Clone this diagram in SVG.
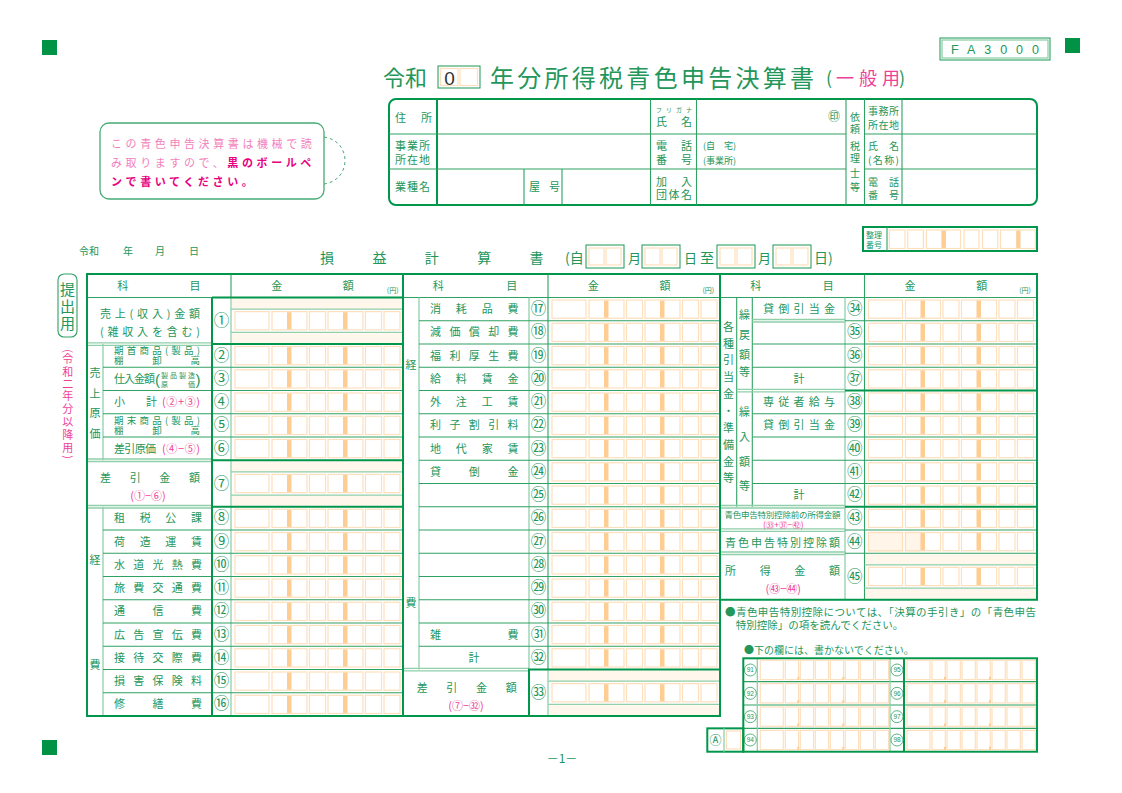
<svg xmlns="http://www.w3.org/2000/svg" width="1122" height="793" viewBox="0 0 1122 793">
<style>
text{font-family:"Noto Sans CJK JP","Noto Sans",sans-serif;fill:#23965a;font-size:11px}
.pk{fill:#ee3f98}
.t{stroke:#00964b;stroke-width:2;fill:none}
.m{stroke:#2fa163;stroke-width:1.1;fill:none}
.l{stroke:#8fcfaa;stroke-width:1.3;fill:none}
.c{fill:#fff;stroke:#fddfbd;stroke-width:1.2}
.b{fill:#fdcd93}
.bg{fill:#fff7ec}
.n{font-size:15.5px;text-anchor:middle}
.mid{text-anchor:middle}
.sq{fill:#009245}
.nb{fill:none;stroke:#2fa163;stroke-width:0.8}
.nt{font-size:6.5px;text-anchor:middle;font-family:"Liberation Sans",sans-serif}
.v{font-size:11px;text-anchor:middle;fill:#ee3f98}
</style>
<defs>
<g id="amt">
<rect class="c" x="4" y="2.5" width="34" height="18.25"/>
<rect class="c" x="41" y="2.5" width="35" height="18.25"/>
<rect class="b" x="56" y="3.1" width="4.5" height="17.1"/>
<rect class="c" x="78.5" y="2.5" width="16" height="18.25"/>
<rect class="c" x="97" y="2.5" width="35" height="18.25"/>
<rect class="b" x="112" y="3.1" width="4.5" height="17.1"/>
<rect class="c" x="134.5" y="2.5" width="16" height="18.25"/>
<rect class="c" x="153" y="2.5" width="16" height="18.25"/>
</g>
<g id="bc">
<rect class="c" x="3" y="2" width="23" height="19.3"/>
<rect class="c" x="28" y="2" width="13.3" height="19.3"/>
<rect class="c" x="43" y="2" width="13.3" height="19.3"/>
<rect class="c" x="58" y="2" width="13.3" height="19.3"/>
<rect class="c" x="73" y="2" width="13.3" height="19.3"/>
<rect class="c" x="88" y="2" width="13.3" height="19.3"/>
<rect class="c" x="103" y="2" width="13.3" height="19.3"/>
<rect class="c" x="118" y="2" width="13.3" height="19.3"/>
<rect class="b" x="40" y="18.5" width="2" height="3"/>
<rect class="b" x="85" y="18.5" width="2" height="3"/>
</g>
<g id="db">
<rect class="m" x="0" y="0" width="38" height="23"/>
<rect class="c" x="3" y="3" width="15" height="17"/>
<rect class="c" x="20" y="3" width="15" height="17"/>
</g>
</defs>
<rect width="1122" height="793" fill="#fff"/>

<g id="markers">
<rect class="sq" x="42" y="40" width="15" height="15"/>
<rect class="sq" x="1065" y="38" width="15" height="15"/>
<rect class="sq" x="42" y="740" width="15" height="15"/>
</g>

<g id="form-code">
<rect class="m" x="940" y="38" width="110" height="22"/>
<rect class="l" x="942" y="40" width="106" height="18" stroke-width="0.8"/>
<text x="951" y="54" textLength="88" lengthAdjust="spacing" style="font-family:'Liberation Sans',sans-serif;font-size:12.5px">FA3000</text>
</g>

<g id="title">
<text x="383" y="86" style="font-size:22px">令和</text>
<rect class="m" x="438" y="66" width="42" height="22"/>
<rect class="c" x="440.5" y="68.5" width="17.5" height="17"/>
<rect class="c" x="460" y="68.5" width="17.5" height="17"/>
<text x="449.5" y="85" class="mid" style="font-family:'Liberation Sans',sans-serif;font-size:19px;fill:#333">0</text>
<text x="490" y="87" textLength="324" lengthAdjust="spacing" style="font-size:24px">年分所得税青色申告決算書</text>
<text x="826" y="85" style="font-size:18px">(</text>
<text x="836" y="85" class="pk" style="font-size:18px">一</text>
<text x="859" y="85" class="pk" style="font-size:18px">般</text>
<text x="882" y="85" class="pk" style="font-size:18px">用</text>
<text x="899" y="85" style="font-size:18px">)</text>
</g>

<g id="info-box">
<rect class="t" x="389" y="99" width="648" height="106" rx="7"/>
<line class="t" x1="437" y1="99" x2="437" y2="205"/>
<line class="m" x1="650.5" y1="99" x2="650.5" y2="205"/>
<line class="m" x1="696.5" y1="99" x2="696.5" y2="205"/>
<line class="m" x1="846" y1="99" x2="846" y2="205"/>
<line class="m" x1="864.5" y1="99" x2="864.5" y2="205"/>
<line class="m" x1="902" y1="99" x2="902" y2="205"/>
<line class="m" x1="389" y1="134" x2="846" y2="134"/>
<line class="m" x1="389" y1="169" x2="846" y2="169"/>
<line class="m" x1="864.5" y1="134" x2="1037" y2="134"/>
<line class="m" x1="864.5" y1="169" x2="1037" y2="169"/>
<line class="m" x1="524" y1="169" x2="524" y2="205"/>
<line class="m" x1="562" y1="169" x2="562" y2="205"/>
<text x="395" y="121.5">住</text><text x="421" y="121.5">所</text>
<text x="395" y="150" textLength="35" lengthAdjust="spacing">事業所</text>
<text x="395" y="163.5" textLength="35" lengthAdjust="spacing">所在地</text>
<text x="395" y="191" textLength="35" lengthAdjust="spacing">業種名</text>
<text x="529" y="191">屋</text><text x="549" y="191">号</text>
<text x="656" y="112" textLength="36" lengthAdjust="spacing" style="font-size:6px">フリガナ</text>
<text x="656" y="126">氏</text><text x="681" y="126">名</text>
<text x="828" y="121" style="font-size:12px">㊞</text>
<text x="656" y="150">電</text><text x="681" y="150">話</text>
<text x="656" y="163.5">番</text><text x="681" y="163.5">号</text>
<text x="703" y="148.5" style="font-size:9px">(自　宅)</text>
<text x="703" y="163.5" style="font-size:9px">(事業所)</text>
<text x="656" y="186">加</text><text x="681" y="186">入</text>
<text x="656" y="199" textLength="36" lengthAdjust="spacing">団体名</text>
<text x="855" y="121" class="mid" style="font-size:10px">依</text>
<text x="855" y="133" class="mid" style="font-size:10px">頼</text>
<text x="855" y="149.5" class="mid" style="font-size:10px">税</text>
<text x="855" y="161.5" class="mid" style="font-size:10px">理</text>
<text x="855" y="177" class="mid" style="font-size:10px">士</text>
<text x="855" y="190.5" class="mid" style="font-size:10px">等</text>
<text x="868" y="115" textLength="31" lengthAdjust="spacing" style="font-size:10px">事務所</text>
<text x="868" y="129" textLength="31" lengthAdjust="spacing" style="font-size:10px">所在地</text>
<text x="868" y="150" style="font-size:10px">氏</text><text x="889" y="150" style="font-size:10px">名</text>
<text x="868" y="163.5" textLength="31" lengthAdjust="spacing" style="font-size:10px">(名称)</text>
<text x="868" y="186" style="font-size:10px">電</text><text x="889" y="186" style="font-size:10px">話</text>
<text x="868" y="199" style="font-size:10px">番</text><text x="889" y="199" style="font-size:10px">号</text>
</g>

<g id="note">
<rect x="100" y="123" width="224" height="76" rx="9" fill="#fff" stroke="#46ab75" stroke-width="1.3"/>
<path d="M324,137 C352,141 352,180 324,184" fill="none" stroke="#46ab75" stroke-width="1" stroke-dasharray="3,3"/>
<text x="111" y="147.5" style="font-size:11px;letter-spacing:3.6px;fill:#f27fbd">この青色申告決算書は機械で読</text>
<text x="111" y="166.5" style="font-size:11px;letter-spacing:3.6px;fill:#f27fbd">み取りますので、<tspan style="fill:#e8007f;font-weight:bold">黒のボールペ</tspan></text>
<text x="111" y="185.5" style="font-size:11px;letter-spacing:3.6px;fill:#e8007f;font-weight:bold">ンで書いてください。</text>
</g>

<g id="pl-title">
<text x="79" y="255" style="font-size:10px">令和</text>
<text x="123" y="255" style="font-size:10px">年</text>
<text x="155" y="255" style="font-size:10px">月</text>
<text x="189" y="255" style="font-size:10px">日</text>
<text x="320" y="263" style="font-size:14px">損</text>
<text x="372.4" y="263" style="font-size:14px">益</text>
<text x="424.8" y="263" style="font-size:14px">計</text>
<text x="477.2" y="263" style="font-size:14px">算</text>
<text x="529.6" y="263" style="font-size:14px">書</text>
<text x="565" y="263" style="font-size:14px">(自</text>
<use href="#db" x="586" y="245"/>
<text x="628" y="263" style="font-size:13px">月</text>
<use href="#db" x="642" y="245"/>
<text x="684" y="263" style="font-size:13px">日</text>
<text x="700" y="263" style="font-size:14px">至</text>
<use href="#db" x="717" y="245"/>
<text x="758" y="263" style="font-size:13px">月</text>
<use href="#db" x="773" y="245"/>
<text x="814" y="263" style="font-size:14px">日)</text>
</g>

<g id="seiri-bango">
<rect class="t" x="863" y="227" width="174" height="24"/>
<line class="m" x1="887" y1="227" x2="887" y2="251"/>
<text x="866" y="237.5" style="font-size:8px">整理</text>
<text x="866" y="248" style="font-size:8px">番号</text>
<rect class="c" x="889.3" y="230" width="15.7" height="18.5"/>
<rect class="c" x="907.7" y="230" width="15.7" height="18.5"/>
<rect class="c" x="926.5" y="230" width="34" height="18.5"/>
<rect class="b" x="941.4" y="230.6" width="4.5" height="17.3"/>
<rect class="c" x="964" y="230" width="15" height="18.5"/>
<rect class="c" x="982.5" y="230" width="15.3" height="18.5"/>
<rect class="c" x="1000.5" y="230" width="34.8" height="18.5"/>
<rect class="b" x="1016.2" y="230.6" width="4.3" height="17.3"/>
</g>

<g id="side-label">
<rect class="m" x="58" y="274" width="19" height="63" rx="6"/>
<text x="67.5" y="295" class="mid" style="font-size:15px">提</text>
<text x="67.5" y="312" class="mid" style="font-size:15px">出</text>
<text x="67.5" y="329" class="mid" style="font-size:15px">用</text>
<text transform="translate(67.7,351) rotate(90)" y="3.2" class="v">(</text>
<text x="67.7" y="362.5" class="v">令</text>
<text x="67.7" y="375.5" class="v">和</text>
<text x="67.7" y="387.5" class="v">二</text>
<text x="67.7" y="400" class="v">年</text>
<text x="67.7" y="412.5" class="v">分</text>
<text x="67.7" y="425.5" class="v">以</text>
<text x="67.7" y="438.5" class="v">降</text>
<text x="67.7" y="451.5" class="v">用</text>
<text transform="translate(67.7,457) rotate(90)" y="3.2" class="v">)</text>
</g>

<g id="table-left">
<rect class="bg" x="232" y="298.5" width="170" height="10.6"/>
<rect class="bg" x="232" y="333.4" width="170" height="9.6"/>
<rect class="bg" x="232" y="461.2" width="170" height="10.6"/>
<rect class="bg" x="232" y="496.1" width="170" height="9.6"/>
<line class="m" x1="87" y1="297.5" x2="403" y2="297.5"/>
<line class="m" x1="231" y1="274" x2="231" y2="297.5"/>
<line class="l" x1="231" y1="297.5" x2="231" y2="716"/>
<line class="l" x1="103" y1="344" x2="103" y2="460.25"/>
<line class="l" x1="103" y1="506.75" x2="103" y2="716"/>
<line class="m" x1="103" y1="367.25" x2="403" y2="367.25"/>
<line class="m" x1="103" y1="390.5" x2="403" y2="390.5"/>
<line class="m" x1="103" y1="413.75" x2="403" y2="413.75"/>
<line class="m" x1="103" y1="437" x2="403" y2="437"/>
<line class="m" x1="103" y1="530" x2="403" y2="530"/>
<line class="m" x1="103" y1="553.25" x2="403" y2="553.25"/>
<line class="m" x1="103" y1="576.5" x2="403" y2="576.5"/>
<line class="m" x1="103" y1="599.75" x2="403" y2="599.75"/>
<line class="m" x1="103" y1="623" x2="403" y2="623"/>
<line class="m" x1="103" y1="646.25" x2="403" y2="646.25"/>
<line class="m" x1="103" y1="669.5" x2="403" y2="669.5"/>
<line class="m" x1="103" y1="692.75" x2="403" y2="692.75"/>
<line class="l" x1="87" y1="342.8" x2="212" y2="342.8"/>
<line class="l" x1="87" y1="345.3" x2="212" y2="345.3"/>
<line class="l" x1="87" y1="459" x2="212" y2="459"/>
<line class="l" x1="87" y1="461.5" x2="212" y2="461.5"/>
<line class="l" x1="87" y1="505.5" x2="212" y2="505.5"/>
<line class="l" x1="87" y1="508" x2="212" y2="508"/>
<line class="l" x1="231" y1="309.125" x2="403" y2="309.125"/>
<line class="l" x1="231" y1="332.375" x2="403" y2="332.375"/>
<line class="l" x1="231" y1="471.875" x2="403" y2="471.875"/>
<line class="l" x1="231" y1="495.125" x2="403" y2="495.125"/>
<line class="t" x1="212" y1="297.5" x2="212" y2="716"/>
<line class="t" x1="212" y1="297.5" x2="403" y2="297.5"/>
<line class="t" x1="212" y1="344" x2="403" y2="344"/>
<line class="t" x1="212" y1="460.25" x2="403" y2="460.25"/>
<line class="t" x1="212" y1="506.75" x2="403" y2="506.75"/>
<rect class="t" x="87" y="274" width="316" height="442"/>
<use href="#amt" x="231" y="309.125"/>
<use href="#amt" x="231" y="344"/>
<use href="#amt" x="231" y="367.25"/>
<use href="#amt" x="231" y="390.5"/>
<use href="#amt" x="231" y="413.75"/>
<use href="#amt" x="231" y="437"/>
<use href="#amt" x="231" y="471.875"/>
<use href="#amt" x="231" y="506.75"/>
<use href="#amt" x="231" y="530"/>
<use href="#amt" x="231" y="553.25"/>
<use href="#amt" x="231" y="576.5"/>
<use href="#amt" x="231" y="599.75"/>
<use href="#amt" x="231" y="623"/>
<use href="#amt" x="231" y="646.25"/>
<use href="#amt" x="231" y="669.5"/>
<use href="#amt" x="231" y="692.75"/>
<text x="122.7" y="290" class="mid">科</text>
<text x="195" y="290" class="mid">目</text>
<text x="276.7" y="290" class="mid">金</text>
<text x="348.3" y="290" class="mid">額</text>
<text x="392.7" y="293" class="mid" style="font-size:7px">(円)</text>
<text x="100" y="318" textLength="100" lengthAdjust="spacing">売上(収入)金額</text>
<text x="100" y="336" textLength="100" lengthAdjust="spacing">(雑収入を含む)</text>
<text x="95" y="377" class="mid">売</text>
<text x="95" y="397.5" class="mid">上</text>
<text x="95" y="417" class="mid">原</text>
<text x="95" y="437.5" class="mid">価</text>
<text x="114" y="354" textLength="86" lengthAdjust="spacing" style="font-size:9.5px">期首商品(製品)</text>
<text x="114" y="364.3" textLength="86" lengthAdjust="spacing" style="font-size:9.5px">棚卸高</text>
<text x="114" y="383" textLength="41" lengthAdjust="spacing">仕入金額</text>
<text x="155" y="384.5" style="font-family:'Liberation Sans',sans-serif;font-size:15px">(</text>
<text x="161" y="377.5" textLength="34" lengthAdjust="spacing" style="font-size:7px">製品製造</text>
<text x="161" y="386.5" textLength="34" lengthAdjust="spacing" style="font-size:7px">原価</text>
<text x="195.5" y="384.5" style="font-family:'Liberation Sans',sans-serif;font-size:15px">)</text>
<text x="114" y="406">小</text>
<text x="146" y="406">計</text>
<text x="162" y="406" class="pk" textLength="38" lengthAdjust="spacing">(②+③)</text>
<text x="114" y="423.5" textLength="86" lengthAdjust="spacing" style="font-size:9.5px">期末商品(製品)</text>
<text x="114" y="433.8" textLength="86" lengthAdjust="spacing" style="font-size:9.5px">棚卸高</text>
<text x="114" y="452.5" textLength="42" lengthAdjust="spacing">差引原価</text>
<text x="162" y="452.5" class="pk" textLength="38" lengthAdjust="spacing">(④−⑤)</text>
<text x="100" y="481.5" textLength="100" lengthAdjust="spacing">差引金額</text>
<text x="148" y="500" class="mid pk">(①−⑥)</text>
<text x="95" y="564" class="mid">経</text>
<text x="95" y="669" class="mid">費</text>
<text x="114" y="522.4" textLength="88" lengthAdjust="spacing">租税公課</text>
<text x="114" y="545.6" textLength="88" lengthAdjust="spacing">荷造運賃</text>
<text x="114" y="568.9" textLength="88" lengthAdjust="spacing">水道光熱費</text>
<text x="114" y="592.1" textLength="88" lengthAdjust="spacing">旅費交通費</text>
<text x="114" y="615.4" textLength="88" lengthAdjust="spacing">通信費</text>
<text x="114" y="638.6" textLength="88" lengthAdjust="spacing">広告宣伝費</text>
<text x="114" y="661.9" textLength="88" lengthAdjust="spacing">接待交際費</text>
<text x="114" y="685.1" textLength="88" lengthAdjust="spacing">損害保険料</text>
<text x="114" y="708.4" textLength="88" lengthAdjust="spacing">修繕費</text>
<text x="221.5" y="325.8" class="n">①</text>
<text x="221.5" y="360.6" class="n">②</text>
<text x="221.5" y="383.9" class="n">③</text>
<text x="221.5" y="407.1" class="n">④</text>
<text x="221.5" y="430.4" class="n">⑤</text>
<text x="221.5" y="453.6" class="n">⑥</text>
<text x="221.5" y="488.5" class="n">⑦</text>
<text x="221.5" y="523.4" class="n">⑧</text>
<text x="221.5" y="546.6" class="n">⑨</text>
<text x="221.5" y="569.9" class="n">⑩</text>
<text x="221.5" y="593.1" class="n">⑪</text>
<text x="221.5" y="616.4" class="n">⑫</text>
<text x="221.5" y="639.6" class="n">⑬</text>
<text x="221.5" y="662.9" class="n">⑭</text>
<text x="221.5" y="686.1" class="n">⑮</text>
<text x="221.5" y="709.4" class="n">⑯</text>
</g>

<g id="table-mid">
<rect class="bg" x="549" y="670.5" width="170" height="10.6"/>
<rect class="bg" x="549" y="705.4" width="170" height="9.6"/>
<line class="m" x1="403" y1="297.5" x2="720" y2="297.5"/>
<line class="m" x1="548" y1="274" x2="548" y2="297.5"/>
<line class="l" x1="419" y1="297.5" x2="419" y2="669.5"/>
<line class="l" x1="529" y1="297.5" x2="529" y2="669.5"/>
<line class="m" x1="548" y1="297.5" x2="548" y2="669.5"/>
<line class="l" x1="548" y1="669.5" x2="548" y2="716"/>
<line class="m" x1="419" y1="320.75" x2="720" y2="320.75"/>
<line class="m" x1="419" y1="344" x2="720" y2="344"/>
<line class="m" x1="419" y1="367.25" x2="720" y2="367.25"/>
<line class="m" x1="419" y1="390.5" x2="720" y2="390.5"/>
<line class="m" x1="419" y1="413.75" x2="720" y2="413.75"/>
<line class="m" x1="419" y1="437" x2="720" y2="437"/>
<line class="m" x1="419" y1="460.25" x2="720" y2="460.25"/>
<line class="m" x1="419" y1="483.5" x2="720" y2="483.5"/>
<line class="m" x1="419" y1="506.75" x2="720" y2="506.75"/>
<line class="m" x1="419" y1="530" x2="720" y2="530"/>
<line class="m" x1="419" y1="553.25" x2="720" y2="553.25"/>
<line class="m" x1="419" y1="576.5" x2="720" y2="576.5"/>
<line class="m" x1="419" y1="599.75" x2="720" y2="599.75"/>
<line class="m" x1="419" y1="623" x2="720" y2="623"/>
<line class="m" x1="419" y1="646.25" x2="720" y2="646.25"/>
<line class="l" x1="403" y1="668.3" x2="529" y2="668.3"/>
<line class="l" x1="403" y1="670.8" x2="529" y2="670.8"/>
<line class="l" x1="548" y1="681.125" x2="720" y2="681.125"/>
<line class="l" x1="548" y1="704.375" x2="720" y2="704.375"/>
<rect class="t" x="529" y="669.5" width="191" height="46.5"/>
<rect class="t" x="403" y="274" width="317" height="442"/>
<use href="#amt" x="548" y="297.5"/>
<use href="#amt" x="548" y="320.75"/>
<use href="#amt" x="548" y="344"/>
<use href="#amt" x="548" y="367.25"/>
<use href="#amt" x="548" y="390.5"/>
<use href="#amt" x="548" y="413.75"/>
<use href="#amt" x="548" y="437"/>
<use href="#amt" x="548" y="460.25"/>
<use href="#amt" x="548" y="483.5"/>
<use href="#amt" x="548" y="506.75"/>
<use href="#amt" x="548" y="530"/>
<use href="#amt" x="548" y="553.25"/>
<use href="#amt" x="548" y="576.5"/>
<use href="#amt" x="548" y="599.75"/>
<use href="#amt" x="548" y="623"/>
<use href="#amt" x="548" y="646.25"/>
<use href="#amt" x="548" y="681.125"/>
<text x="438.3" y="290" class="mid">科</text>
<text x="511.7" y="290" class="mid">目</text>
<text x="593.3" y="290" class="mid">金</text>
<text x="665" y="290" class="mid">額</text>
<text x="708.3" y="293" class="mid" style="font-size:7px">(円)</text>
<text x="411" y="369" class="mid">経</text>
<text x="411" y="607" class="mid">費</text>
<text x="430" y="313.1" textLength="88.5" lengthAdjust="spacing">消耗品費</text>
<text x="430" y="336.4" textLength="88.5" lengthAdjust="spacing">減価償却費</text>
<text x="430" y="359.6" textLength="88.5" lengthAdjust="spacing">福利厚生費</text>
<text x="430" y="382.9" textLength="88.5" lengthAdjust="spacing">給料賃金</text>
<text x="430" y="406.1" textLength="88.5" lengthAdjust="spacing">外注工賃</text>
<text x="430" y="429.4" textLength="88.5" lengthAdjust="spacing">利子割引料</text>
<text x="430" y="452.6" textLength="88.5" lengthAdjust="spacing">地代家賃</text>
<text x="430" y="475.9" textLength="88.5" lengthAdjust="spacing">貸倒金</text>
<text x="430" y="638.6" textLength="88.5" lengthAdjust="spacing">雑費</text>
<text x="474" y="661.9" class="mid">計</text>
<text x="416.7" y="691.5" textLength="100" lengthAdjust="spacing">差引金額</text>
<text x="466" y="709.5" class="mid pk">(⑦−㉜)</text>
<text x="538.5" y="314.1" class="n">⑰</text>
<text x="538.5" y="337.4" class="n">⑱</text>
<text x="538.5" y="360.6" class="n">⑲</text>
<text x="538.5" y="383.9" class="n">⑳</text>
<text x="538.5" y="407.1" class="n">㉑</text>
<text x="538.5" y="430.4" class="n">㉒</text>
<text x="538.5" y="453.6" class="n">㉓</text>
<text x="538.5" y="476.9" class="n">㉔</text>
<text x="538.5" y="500.1" class="n">㉕</text>
<text x="538.5" y="523.4" class="n">㉖</text>
<text x="538.5" y="546.6" class="n">㉗</text>
<text x="538.5" y="569.9" class="n">㉘</text>
<text x="538.5" y="593.1" class="n">㉙</text>
<text x="538.5" y="616.4" class="n">㉚</text>
<text x="538.5" y="639.6" class="n">㉛</text>
<text x="538.5" y="662.9" class="n">㉜</text>
<text x="538.5" y="697.8" class="n">㉝</text>
</g>

<g id="table-right">
<rect class="bg" x="865.5" y="554.2" width="170.5" height="10.6"/>
<rect class="bg" x="865.5" y="589.1" width="170.5" height="9.6"/>
<line class="m" x1="720" y1="297.5" x2="1037" y2="297.5"/>
<line class="m" x1="864.5" y1="274" x2="864.5" y2="297.5"/>
<line class="m" x1="736.7" y1="297.5" x2="736.7" y2="506.75"/>
<line class="m" x1="752.3" y1="297.5" x2="752.3" y2="506.75"/>
<line class="l" x1="845" y1="297.5" x2="845" y2="599.75"/>
<line class="m" x1="864.5" y1="297.5" x2="864.5" y2="599.75"/>
<line class="l" x1="752.3" y1="319.5" x2="845" y2="319.5"/>
<line class="l" x1="752.3" y1="322" x2="845" y2="322"/>
<line class="m" x1="845" y1="320.75" x2="1037" y2="320.75"/>
<line class="m" x1="752.3" y1="344" x2="1037" y2="344"/>
<line class="m" x1="752.3" y1="367.25" x2="1037" y2="367.25"/>
<line class="l" x1="736.7" y1="389.3" x2="845" y2="389.3"/>
<line class="l" x1="736.7" y1="391.8" x2="845" y2="391.8"/>
<line class="t" x1="845" y1="390.5" x2="1037" y2="390.5"/>
<line class="m" x1="752.3" y1="413.75" x2="1037" y2="413.75"/>
<line class="m" x1="752.3" y1="437" x2="1037" y2="437"/>
<line class="m" x1="752.3" y1="460.25" x2="1037" y2="460.25"/>
<line class="m" x1="752.3" y1="483.5" x2="1037" y2="483.5"/>
<line class="l" x1="720" y1="505.5" x2="845" y2="505.5"/>
<line class="l" x1="720" y1="508" x2="845" y2="508"/>
<line class="t" x1="845" y1="506.75" x2="1037" y2="506.75"/>
<line class="l" x1="720" y1="528.8" x2="845" y2="528.8"/>
<line class="l" x1="720" y1="531.3" x2="845" y2="531.3"/>
<line class="m" x1="845" y1="530" x2="1037" y2="530"/>
<line class="l" x1="720" y1="552" x2="845" y2="552"/>
<line class="l" x1="720" y1="554.5" x2="845" y2="554.5"/>
<line class="m" x1="845" y1="553.25" x2="1037" y2="553.25"/>
<line class="l" x1="864.5" y1="564.875" x2="1037" y2="564.875"/>
<line class="l" x1="864.5" y1="588.125" x2="1037" y2="588.125"/>
<rect class="t" x="720" y="274" width="317" height="325.75"/>
<use href="#amt" x="864.5" y="297.5"/>
<use href="#amt" x="864.5" y="320.75"/>
<use href="#amt" x="864.5" y="344"/>
<use href="#amt" x="864.5" y="367.25"/>
<use href="#amt" x="864.5" y="390.5"/>
<use href="#amt" x="864.5" y="413.75"/>
<use href="#amt" x="864.5" y="437"/>
<use href="#amt" x="864.5" y="460.25"/>
<use href="#amt" x="864.5" y="483.5"/>
<use href="#amt" x="864.5" y="506.75"/>
<use href="#amt" x="864.5" y="530"/>
<use href="#amt" x="864.5" y="564.875"/>
<rect x="868.5" y="532.5" width="34" height="18.25" fill="#fff5e8" stroke="#fddfbd" stroke-width="1.2"/>
<rect x="905.5" y="532.5" width="15" height="18.25" fill="#fff5e8" stroke="#fddfbd" stroke-width="1.2"/>
<text x="755.7" y="290" class="mid">科</text>
<text x="828.3" y="290" class="mid">目</text>
<text x="910" y="290" class="mid">金</text>
<text x="981.7" y="290" class="mid">額</text>
<text x="1025" y="293" class="mid" style="font-size:7px">(円)</text>
<text x="728.4" y="330.7" class="mid">各</text>
<text x="728.4" y="347.5" class="mid">種</text>
<text x="728.4" y="364.4" class="mid">引</text>
<text x="728.4" y="381.2" class="mid">当</text>
<text x="728.4" y="398.1" class="mid">金</text>
<text x="728.4" y="414.9" class="mid">・</text>
<text x="728.4" y="431.8" class="mid">準</text>
<text x="728.4" y="448.6" class="mid">備</text>
<text x="728.4" y="465.5" class="mid">金</text>
<text x="728.4" y="482.3" class="mid">等</text>
<text x="744.5" y="319" class="mid">繰</text>
<text x="744.5" y="338.8" class="mid">戻</text>
<text x="744.5" y="358.5" class="mid">額</text>
<text x="744.5" y="376.3" class="mid">等</text>
<text x="744.5" y="415.7" class="mid">繰</text>
<text x="744.5" y="440.7" class="mid">入</text>
<text x="744.5" y="465.7" class="mid">額</text>
<text x="744.5" y="490" class="mid">等</text>
<text x="763" y="313.1" textLength="72" lengthAdjust="spacing">貸倒引当金</text>
<text x="799" y="382.9" class="mid">計</text>
<text x="763" y="406.1" textLength="72" lengthAdjust="spacing">専従者給与</text>
<text x="763" y="429.4" textLength="72" lengthAdjust="spacing">貸倒引当金</text>
<text x="799" y="499.1" class="mid">計</text>
<text x="724.5" y="518" textLength="116" lengthAdjust="spacing" style="font-size:8.5px">青色申告特別控除前の所得金額</text>
<text x="783.3" y="527.5" class="mid pk" style="font-size:8.5px">(㉝+㊲−㊷)</text>
<text x="725" y="546.5" textLength="115" lengthAdjust="spacing">青色申告特別控除額</text>
<text x="725" y="574.5" textLength="115" lengthAdjust="spacing">所得金額</text>
<text x="783.3" y="593" class="mid pk">(㊸−㊹)</text>
<text x="854.75" y="314.1" class="n">㉞</text>
<text x="854.75" y="337.4" class="n">㉟</text>
<text x="854.75" y="360.6" class="n">㊱</text>
<text x="854.75" y="383.9" class="n">㊲</text>
<text x="854.75" y="407.1" class="n">㊳</text>
<text x="854.75" y="430.4" class="n">㊴</text>
<text x="854.75" y="453.6" class="n">㊵</text>
<text x="854.75" y="476.9" class="n">㊶</text>
<text x="854.75" y="500.1" class="n">㊷</text>
<text x="854.75" y="523.4" class="n">㊸</text>
<text x="854.75" y="546.6" class="n">㊹</text>
<text x="854.75" y="581.5" class="n">㊺</text>
</g>

<g id="notes">
<text x="725" y="616" textLength="311" lengthAdjust="spacing" style="font-size:10.5px">●青色申告特別控除については、「決算の手引き」の「青色申告</text>
<text x="735.7" y="628.5" style="font-size:10.5px">特別控除」の項を読んでください。</text>
<text x="744" y="654" style="font-size:10px">●下の欄には、書かないでください。</text>
</g>

<g id="bottom-box">
<line class="m" x1="743.3" y1="681.65" x2="1037" y2="681.65"/>
<line class="m" x1="743.3" y1="705" x2="1037" y2="705"/>
<line class="m" x1="743.3" y1="728.35" x2="1037" y2="728.35"/>
<line class="l" x1="757.3" y1="658.3" x2="757.3" y2="751.7"/>
<line class="l" x1="890" y1="658.3" x2="890" y2="751.7"/>
<line class="t" x1="904" y1="658.3" x2="904" y2="751.7"/>
<rect class="t" x="743.3" y="658.3" width="293.7" height="93.4"/>
<rect class="t" x="707.3" y="728.35" width="36" height="23.35"/>
<line class="l" x1="724" y1="728.35" x2="724" y2="751.7"/>
<rect class="c" x="726.5" y="731" width="14" height="18"/>
<text x="715.6" y="744.5" class="mid" style="font-size:12px">Ⓐ</text>
<use href="#bc" x="757.3" y="658.3"/>
<use href="#bc" x="757.3" y="681.65"/>
<use href="#bc" x="757.3" y="705"/>
<use href="#bc" x="757.3" y="728.35"/>
<use href="#bc" x="904" y="658.3"/>
<use href="#bc" x="904" y="681.65"/>
<use href="#bc" x="904" y="705"/>
<use href="#bc" x="904" y="728.35"/>
<circle class="nb" cx="750.3" cy="670" r="6"/>
<circle class="nb" cx="750.3" cy="693.3" r="6"/>
<circle class="nb" cx="750.3" cy="716.7" r="6"/>
<circle class="nb" cx="750.3" cy="740" r="6"/>
<circle class="nb" cx="897" cy="670" r="6"/>
<circle class="nb" cx="897" cy="693.3" r="6"/>
<circle class="nb" cx="897" cy="716.7" r="6"/>
<circle class="nb" cx="897" cy="740" r="6"/>
<text x="750.3" y="672.3" class="nt">91</text>
<text x="750.3" y="695.6" class="nt">92</text>
<text x="750.3" y="719" class="nt">93</text>
<text x="750.3" y="742.3" class="nt">94</text>
<text x="897" y="672.3" class="nt">95</text>
<text x="897" y="695.6" class="nt">96</text>
<text x="897" y="719" class="nt">97</text>
<text x="897" y="742.3" class="nt">98</text>
</g>

<g id="page-number">
<text x="562" y="763" class="mid" style="font-size:12px">－1－</text>
</g>

<g id="connectors"/>
</svg>
